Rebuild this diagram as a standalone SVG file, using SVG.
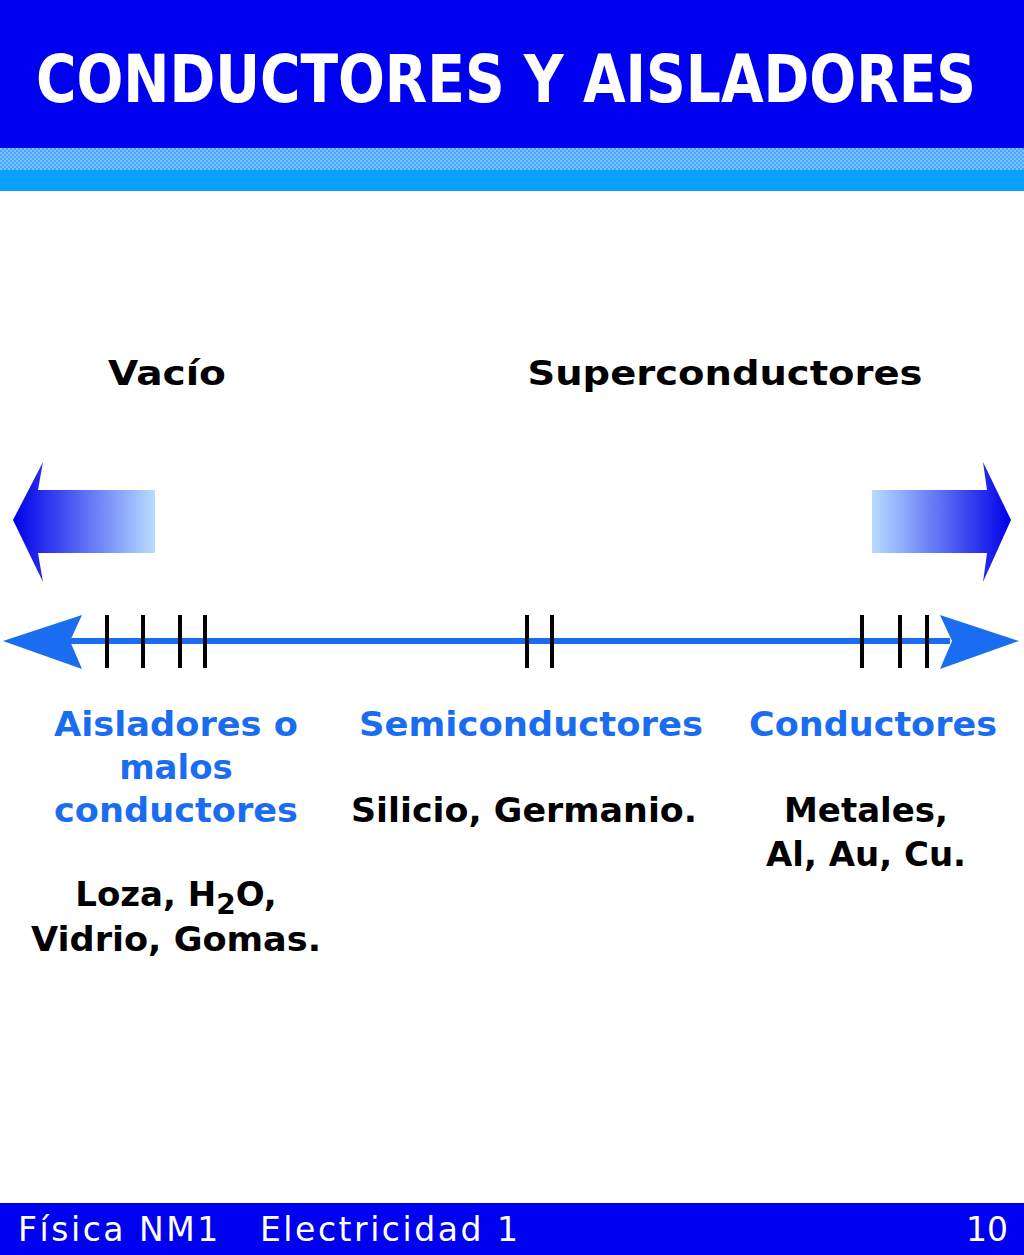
<svg xmlns="http://www.w3.org/2000/svg" width="1024" height="1255" viewBox="0 0 1024 1255">
<defs>
<linearGradient id="gl" x1="0" x2="1" y1="0" y2="0"><stop offset="0" stop-color="#0000e8"/><stop offset="1" stop-color="#b8dcff"/></linearGradient>
<linearGradient id="gr" x1="1" x2="0" y1="0" y2="0"><stop offset="0" stop-color="#0000e8"/><stop offset="1" stop-color="#b8dcff"/></linearGradient>
<pattern id="dots" width="4" height="4" patternUnits="userSpaceOnUse"><rect width="4" height="4" fill="#40a8ff"/><rect width="2" height="2" fill="#80c0ff"/><rect x="2" y="2" width="2" height="2" fill="#80c0ff"/></pattern>
<style>
text{font-family:"DejaVu Sans","Verdana",sans-serif;font-weight:bold;font-size:34px;text-anchor:middle}
.b{fill:#1a6cf0}.k{fill:#000}
.t{stroke:#000;stroke-width:4}
</style>
</defs>
<rect width="1024" height="1255" fill="#fff"/>
<g id="header">
<rect width="1024" height="148" fill="#0000f0"/>
<rect y="148" width="1024" height="22" fill="url(#dots)"/>
<rect y="170" width="1024" height="21" fill="#0aa0ff"/>
<text x="506" y="102" style="font-family:'DejaVu Sans Condensed','DejaVu Sans',sans-serif;font-size:66px;fill:#fff" textLength="940" lengthAdjust="spacingAndGlyphs">CONDUCTORES Y AISLADORES</text>
</g>
<g id="vacio"><text class="k" x="167" y="385" textLength="118" lengthAdjust="spacingAndGlyphs">Vacío</text></g>
<g id="super"><text class="k" x="725" y="385" textLength="395" lengthAdjust="spacingAndGlyphs">Superconductores</text></g>
<g id="arrowLeft"><path d="M13,520 L43,462 L38,490 L155,490 L155,553 L38,553 L43,582 Z" fill="url(#gl)"/></g>
<g id="arrowRight"><path d="M1011,520 L983,462 L987,490 L872,490 L872,553 L987,553 L983,582 Z" fill="url(#gr)"/></g>
<g id="connectors">
<line x1="70" y1="641" x2="950" y2="641" stroke="#1a6cf0" stroke-width="6"/>
<path d="M3,641 L82,615 L70,641 L82,669 Z" fill="#1a6cf0"/>
<path d="M1019,641 L940,615 L952,641 L940,669 Z" fill="#1a6cf0"/>
<g class="t">
<line x1="107" y1="615" x2="107" y2="668"/><line x1="143" y1="615" x2="143" y2="668"/><line x1="180" y1="615" x2="180" y2="668"/><line x1="205" y1="615" x2="205" y2="668"/>
<line x1="527" y1="615" x2="527" y2="668"/><line x1="552" y1="615" x2="552" y2="668"/>
<line x1="862" y1="615" x2="862" y2="668"/><line x1="900" y1="615" x2="900" y2="668"/><line x1="927" y1="615" x2="927" y2="668"/>
</g>
</g>
<g id="aisladores">
<text class="b" x="176" y="736" textLength="244" lengthAdjust="spacingAndGlyphs">Aisladores o</text>
<text class="b" x="176" y="779">malos</text>
<text class="b" x="176" y="822" textLength="244" lengthAdjust="spacingAndGlyphs">conductores</text>
<text class="k" x="176" y="906">Loza, H<tspan dy="8" style="font-size:28px">2</tspan><tspan dy="-8">O,</tspan></text>
<text class="k" x="176" y="951" textLength="290" lengthAdjust="spacingAndGlyphs">Vidrio, Gomas.</text>
</g>
<g id="semi">
<text class="b" x="531" y="736" textLength="344" lengthAdjust="spacingAndGlyphs">Semiconductores</text>
<text class="k" x="524" y="822" textLength="346" lengthAdjust="spacingAndGlyphs">Silicio, Germanio.</text>
</g>
<g id="cond">
<text class="b" x="873" y="736" textLength="248" lengthAdjust="spacingAndGlyphs">Conductores</text>
<text class="k" x="866" y="822">Metales,</text>
<text class="k" x="866" y="866">Al, Au, Cu.</text>
</g>
<g id="footer">
<rect y="1203" width="1024" height="52" fill="#0000f0"/>
<text x="18" y="1241" style="text-anchor:start;font-weight:normal;fill:#fff;font-size:33px" xml:space="preserve" textLength="500" lengthAdjust="spacing">Física NM1   Electricidad 1</text>
<text x="1008" y="1241" style="text-anchor:end;font-weight:normal;fill:#fff;font-size:33px">10</text>
</g>
</svg>
